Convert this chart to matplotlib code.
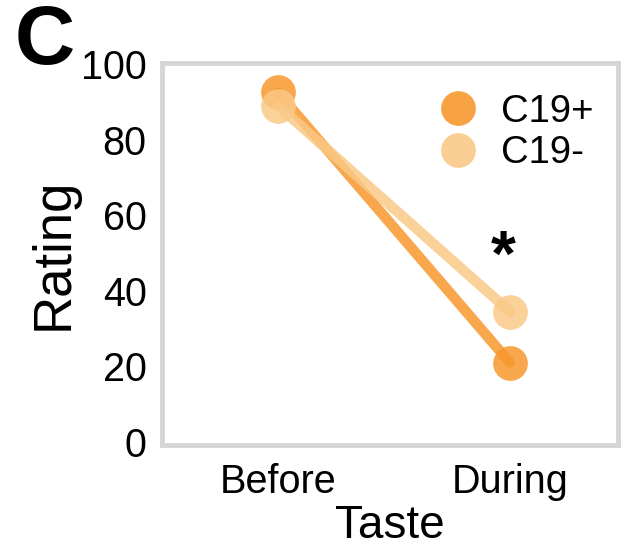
import matplotlib
matplotlib.use("Agg")
import matplotlib.pyplot as plt
from matplotlib.lines import Line2D

plt.rcParams['font.family'] = ['Liberation Sans', 'DejaVu Sans']

# Mean taste ratings before and during illness
phases = ["Before", "During"]
c19_pos = [92.5, 21.0]
c19_neg = [89.0, 34.5]
groups = ["C19+", "C19-"]
star_pos = (0.97, 48.5)   # significance marker (x index, rating)
y_ticks = [0, 20, 40, 60, 80, 100]

col_pos = "#f7982e"
col_neg = "#fac987"

fig = plt.figure(figsize=(6.25, 5.48), dpi=100)
ax = fig.add_axes([0.2592, 0.188, 0.7296, 0.697])

x = list(range(len(phases)))
ax.plot(x, c19_pos, color=col_pos, lw=7.5, alpha=0.85, solid_capstyle="round",
        marker="o", markersize=25, markeredgewidth=0, zorder=3)
ax.plot(x, c19_neg, color=col_neg, lw=7.5, alpha=0.85, solid_capstyle="round",
        marker="o", markersize=25, markeredgewidth=0, zorder=3)

ax.text(star_pos[0], star_pos[1], "*", fontsize=46, fontweight="bold",
        ha="center", va="center", color="black")

ax.set_xlim(-0.5, 1.466)
ax.set_ylim(-0.8, 100.3)
ax.set_xticks(x)
ax.set_xticklabels(phases)
ax.set_yticks(y_ticks)
ax.tick_params(axis="both", length=0, labelsize=28.5)
ax.tick_params(axis="y", pad=11)
ax.tick_params(axis="x", pad=13)

for sp in ax.spines.values():
    sp.set_color("#d6d6d6")
    sp.set_linewidth(3.5)

ax.set_ylabel("Rating", fontsize=38, labelpad=2)
ax.set_xlabel("Taste", fontsize=33, labelpad=2)

handles = [Line2D([], [], ls="none", marker="o", markersize=25,
                  markeredgewidth=0, color=c, alpha=0.9)
           for c in (col_pos, col_neg)]
ax.legend(handles, groups, loc="upper right", bbox_to_anchor=(1.0, 0.985),
          frameon=False, fontsize=27.5, handlelength=1.0, handletextpad=0.62,
          labelspacing=0.15, borderaxespad=0.25)

fig.text(0.024, 0.995, "C", fontsize=60, fontweight="bold", ha="left", va="top")

fig.savefig("out.png", dpi=100)
